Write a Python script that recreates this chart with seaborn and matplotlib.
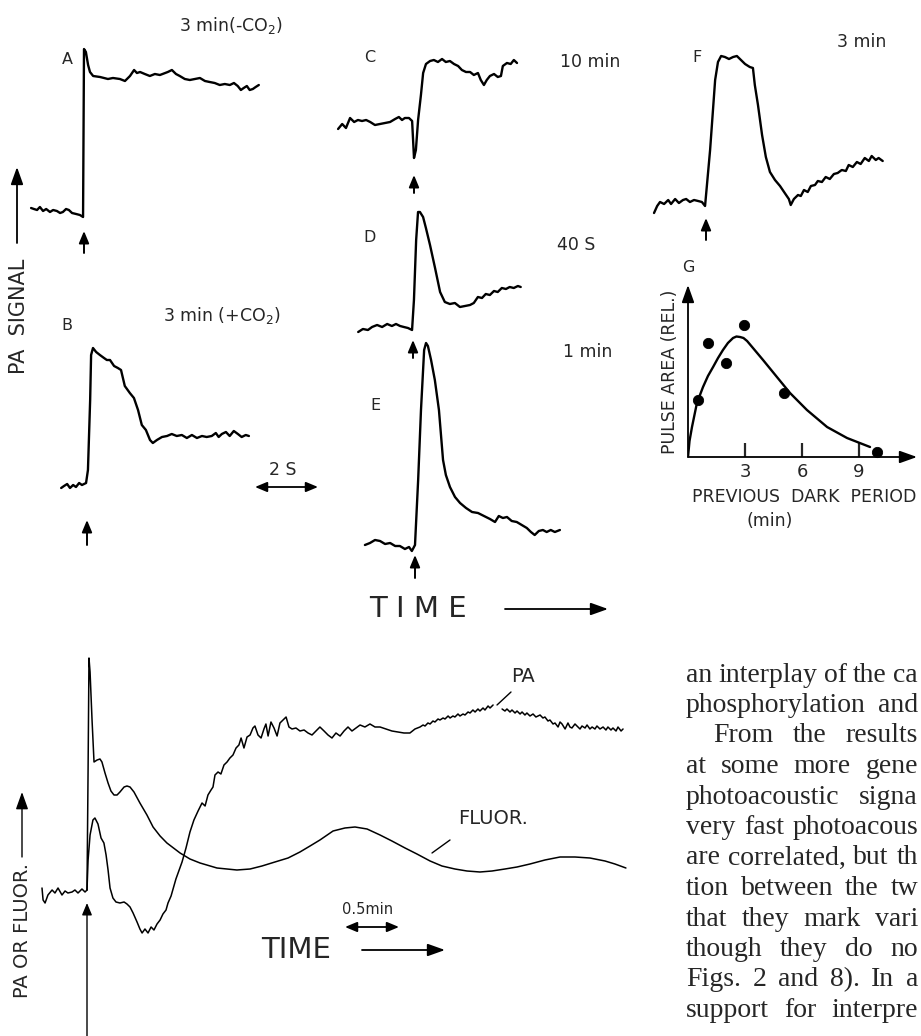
import matplotlib
matplotlib.use("Agg")
import matplotlib.pyplot as plt
import seaborn as sns

sns.set_style("white")
plt.rcParams['font.family'] = ['DejaVu Sans']
plt.rcParams['mathtext.fontset'] = 'dejavusans'

W, H = 921, 1036

# ---- data: upper traces, time (s) after the flash, PA signal (rel. units) ----
a_t = [-1.68, -1.59, -1.49, -1.40, -1.30, -1.20, -1.08, -0.98, -0.86, -0.76, -0.67, -0.57, -0.48,
       -0.38, -0.25, -0.13, -0.03, 0.0, 0.06, 0.13, 0.19, 0.29, 0.51, 0.76, 0.92, 1.14, 1.30, 1.46,
       1.59, 1.68, 1.78, 1.93, 2.09, 2.25, 2.41, 2.66, 2.79, 2.92, 3.04, 3.20, 3.36, 3.52, 3.68,
       3.84, 3.99, 4.15, 4.31, 4.47, 4.63, 4.76, 4.88, 4.98, 5.07, 5.17, 5.26, 5.36, 5.45, 5.55]
a_sig = [0.4, 0.3, 0.2, 0.5, 0.1, 0.3, 0.0, 0.2, 0.1, -0.1, 0.0, 0.3, 0.2,
         -0.1, -0.2, -0.3, -0.5, 16.3, 16.0, 14.7, 14.0, 13.6, 13.5, 13.3, 13.4, 13.3, 13.1, 13.6,
         14.2, 13.9, 14.0, 13.8, 13.6, 13.8, 13.7, 14.0, 14.2, 13.8, 13.6, 13.3, 13.2, 13.3, 13.4,
         13.1, 13.0, 12.9, 12.7, 12.8, 12.7, 12.9, 12.6, 12.2, 12.4, 12.6, 12.2, 12.3, 12.5, 12.7]

b_t = [-0.82, -0.73, -0.63, -0.54, -0.44, -0.35, -0.25, -0.16, -0.03, 0.03, 0.10, 0.13, 0.19,
       0.29, 0.41, 0.54, 0.63, 0.73, 0.86, 0.98, 1.08, 1.20, 1.36, 1.49, 1.62, 1.74, 1.87, 2.00,
       2.09, 2.22, 2.38, 2.54, 2.69, 2.85, 3.01, 3.17, 3.33, 3.49, 3.65, 3.80, 3.96, 4.09, 4.18,
       4.28, 4.41, 4.53, 4.66, 4.79, 4.91, 5.04, 5.14]
b_sig = [-0.2, 0.0, 0.2, -0.2, 0.1, -0.1, 0.3, 0.1, 0.3, 1.6, 8.6, 13.1, 13.8,
         13.4, 13.1, 12.8, 12.6, 12.6, 12.0, 11.8, 11.6, 10.0, 9.3, 8.8, 7.6, 6.1, 5.6, 4.6,
         4.3, 4.6, 4.9, 5.0, 5.2, 5.0, 5.1, 4.8, 5.1, 4.8, 5.0, 4.9, 5.0, 5.3, 4.9,
         5.2, 5.4, 5.0, 5.5, 5.2, 4.9, 5.1, 5.0]

c_t = [-2.41, -2.28, -2.16, -2.03, -1.90, -1.78, -1.65, -1.52, -1.39, -1.24, -1.08, -0.92, -0.76,
       -0.60, -0.48, -0.38, -0.29, -0.16, -0.06, 0.0, 0.06, 0.13, 0.22, 0.29, 0.38, 0.51, 0.63,
       0.76, 0.89, 1.01, 1.14, 1.27, 1.40, 1.52, 1.65, 1.78, 1.90, 2.03, 2.12, 2.22, 2.31, 2.41,
       2.54, 2.66, 2.76, 2.82, 2.95, 3.07, 3.17, 3.27]
c_sig = [-0.8, -0.3, -0.7, 0.3, -0.1, 0.1, 0.0, 0.1, -0.1, -0.4, -0.3, -0.2, -0.1,
         0.2, 0.4, 0.1, 0.3, 0.3, 0.0, -3.7, -2.9, 0.1, 2.6, 4.8, 5.7, 6.0, 6.1,
         5.9, 6.2, 5.9, 6.0, 5.7, 5.5, 5.1, 4.9, 4.9, 4.6, 4.8, 4.1, 3.6, 4.1, 4.5,
         4.7, 4.4, 4.5, 5.5, 5.8, 5.7, 6.1, 5.8]

d_t = [-1.74, -1.59, -1.43, -1.30, -1.14, -0.98, -0.82, -0.67, -0.54, -0.41, -0.29, -0.16, -0.03,
       0.03, 0.10, 0.16, 0.22, 0.32, 0.41, 0.54, 0.70, 0.86, 1.01, 1.17, 1.33, 1.49, 1.65, 1.81,
       1.93, 2.06, 2.19, 2.31, 2.44, 2.57, 2.69, 2.82, 2.95, 3.07, 3.20, 3.33, 3.42]
d_sig = [-0.2, 0.1, 0.0, 0.3, 0.5, 0.3, 0.6, 0.4, 0.6, 0.4, 0.3, 0.2, 0.0,
         3.0, 9.0, 11.8, 11.8, 11.3, 10.2, 8.5, 6.2, 3.8, 2.8, 2.6, 2.7, 2.3, 2.4, 2.5,
         2.7, 3.3, 3.2, 3.6, 3.5, 3.9, 3.8, 4.2, 4.1, 4.3, 4.2, 4.4, 4.3]

e_t = [-1.59, -1.43, -1.27, -1.11, -0.95, -0.79, -0.63, -0.48, -0.32, -0.19, -0.10, 0.0,
       0.10, 0.19, 0.29, 0.35, 0.41, 0.51, 0.63, 0.76, 0.89, 0.98, 1.11, 1.27, 1.43, 1.62, 1.81,
       2.00, 2.19, 2.38, 2.54, 2.66, 2.79, 2.92, 3.07, 3.23, 3.39, 3.55, 3.68, 3.80, 3.93, 4.06,
       4.18, 4.31, 4.44, 4.60]
e_sig = [0.0, 0.2, 0.5, 0.4, 0.1, 0.2, -0.1, -0.1, -0.4, -0.2, -0.6, 0.0,
         6.5, 13.5, 19.5, 20.2, 19.9, 18.5, 16.5, 13.5, 8.5, 7.0, 5.8, 4.8, 4.2, 3.7, 3.3,
         3.2, 2.9, 2.6, 2.3, 2.9, 2.7, 2.8, 2.4, 2.3, 2.0, 1.7, 1.3, 1.0, 1.4, 1.5,
         1.3, 1.5, 1.3, 1.5]

f_t = [-1.65, -1.55, -1.46, -1.33, -1.20, -1.11, -0.98, -0.86, -0.73, -0.63, -0.51, -0.38, -0.25,
       -0.13, -0.03, 0.13, 0.29, 0.38, 0.48, 0.60, 0.73, 0.86, 0.98, 1.11, 1.24, 1.39, 1.49, 1.55,
       1.65, 1.78, 1.90, 2.03, 2.19, 2.35, 2.50, 2.63, 2.69, 2.79, 2.92, 3.01, 3.11, 3.23, 3.33,
       3.46, 3.55, 3.68, 3.80, 3.93, 4.06, 4.18, 4.31, 4.44, 4.53, 4.66, 4.79, 4.91, 5.04, 5.17,
       5.26, 5.39, 5.48, 5.61]
f_sig = [-1.0, -0.3, 0.1, -0.1, 0.3, -0.1, 0.4, 0.0, 0.3, 0.4, 0.1, 0.3, 0.2,
         0.1, -0.3, 5.3, 12.3, 14.1, 14.7, 14.6, 14.4, 14.6, 14.7, 14.3, 13.9, 13.6, 13.5, 11.8,
         9.8, 6.8, 4.6, 3.1, 2.3, 1.7, 1.0, 0.4, -0.2, 0.4, 0.8, 0.7, 1.3, 1.1, 1.7,
         1.8, 2.2, 2.1, 2.6, 2.4, 2.9, 3.0, 3.3, 3.2, 3.8, 3.6, 4.1, 3.9, 4.5, 4.2,
         4.7, 4.3, 4.5, 4.2]

# ---- data: G, pulse area vs previous dark period ----
g_dark_min = [0.53, 1.05, 2.0, 2.95, 5.05, 9.95]
g_area = [5.7, 11.4, 9.4, 13.2, 6.4, 0.5]
g_fit_min = [0.0, 0.08, 0.21, 0.47, 0.79, 1.05, 1.32, 1.58, 1.84, 2.1, 2.37, 2.55, 2.74, 2.92,
             3.11, 3.42, 3.95, 4.68, 5.37, 6.26, 7.32, 8.37, 9.58]
g_fit_area = [0.0, 1.6, 3.0, 5.4, 7.0, 8.1, 9.0, 9.9, 10.7, 11.4, 11.9, 12.05, 12.0, 11.9,
              11.6, 10.9, 9.7, 8.0, 6.4, 4.7, 3.0, 1.9, 1.0]

# ---- data: bottom panel, time (s) after light on ----
base_t = [-25.0, -24.4, -23.3, -21.7, -19.4, -17.8, -16.1, -13.9, -12.2, -10.6, -8.3, -6.7, -5.0,
          -2.8, -1.1, 0.0]
base_sig = [0.2, -1.0, -1.3, -0.5, 0.0, -0.3, 0.2, -0.5, -0.1, -0.3, -0.2, 0.0, -0.3,
            0.1, -0.2, 0.0]

pa_t = [0.0, 0.6, 1.7, 3.3, 4.4, 6.1, 7.8, 9.4, 10.6, 11.7, 12.8, 14.4, 16.1, 18.3, 20.6, 22.2,
        23.9, 25.6, 27.8, 29.4, 30.6, 32.2, 33.9, 35.6, 37.2, 38.9, 40.6, 42.2, 43.9, 45.0, 46.7,
        47.8, 49.4, 50.6, 52.8, 55.0, 57.2, 59.4, 61.7, 63.9, 65.6, 67.2, 68.9, 70.0, 71.1, 72.8,
        74.4, 76.1, 77.8, 79.4, 81.1, 82.8, 84.4, 85.6, 87.2, 88.9, 90.6, 92.2, 93.3, 95.0, 96.7,
        98.3, 99.4, 100.6, 102.2, 103.9, 105.6, 107.2, 108.9, 110.6, 112.2, 113.9, 116.1, 118.3,
        120.6, 122.8, 125.0, 127.2, 129.4, 131.7, 133.9, 136.1, 138.3, 140.6, 142.8, 145.0, 147.2,
        149.4, 151.7, 154.4, 157.2, 160.0, 162.8, 166.1, 169.4, 172.8, 176.1, 179.4, 182.2, 185.0,
        186.7, 187.8, 189.4, 190.6, 192.2, 193.3, 195.0, 196.1, 197.8, 198.9, 200.6, 201.7, 203.3,
        204.4, 206.1, 207.2, 208.9, 210.0, 211.7, 212.8, 214.4, 215.6, 217.2, 218.3, 220.0, 221.1,
        222.8, 223.9, 225.6]
pa_sig = [0.0, 3.0, 5.5, 7.0, 7.2, 6.6, 5.2, 4.7, 3.5, 2.0, 0.2, -0.8, -1.2, -1.3, -1.2, -1.4,
          -1.7, -2.3, -3.2, -3.9, -4.3, -3.9, -4.3, -3.7, -4.0, -3.4, -3.0, -2.4, -2.0, -1.3, -0.6,
          0.1, 1.1, 1.7, 2.8, 4.2, 5.8, 7.0, 7.9, 8.7, 8.4, 9.5, 10.0, 10.3, 11.5, 11.8,
          11.6, 12.5, 12.8, 13.2, 13.5, 14.2, 14.5, 15.2, 14.2, 15.3, 15.5, 16.2, 16.4, 15.5, 15.2,
          16.1, 16.6, 15.4, 16.8, 16.2, 15.4, 16.7, 17.0, 17.3, 16.3, 16.1, 16.2, 15.9,
          16.0, 15.7, 15.5, 15.9, 16.3, 15.9, 15.5, 15.2, 15.7, 15.4, 15.9, 16.3, 15.9,
          16.2, 16.5, 16.3, 16.6, 16.3, 16.3, 16.1, 15.9, 15.8, 15.7, 15.7, 16.1, 16.3,
          16.5, 16.4, 16.7, 16.6, 16.9, 16.8, 17.1, 17.0, 17.2, 17.1, 17.4, 17.2, 17.4,
          17.3, 17.6, 17.4, 17.6, 17.5, 17.8, 17.7, 18.0, 17.8, 18.1, 17.9, 18.2, 18.0,
          18.4, 18.2, 18.5]
pa_late_t = [230.6, 232.2, 233.3, 235.0, 236.1, 237.8, 238.9, 240.6, 241.7, 243.3, 244.4, 246.1,
             247.8, 249.4, 251.7, 253.3, 254.4, 256.1, 257.2, 258.9, 260.0, 261.7, 262.8, 263.9,
             265.6, 267.2, 268.3, 269.4, 271.1, 272.2, 273.9, 275.0, 276.7, 277.8, 279.4, 280.6,
             282.2, 283.3, 285.0, 286.7, 288.3, 289.4, 291.1, 292.2, 293.9, 295.0, 296.7, 297.8]
pa_late_sig = [18.1, 17.9, 18.1, 17.8, 18.0, 17.7, 17.9, 17.6, 17.8, 17.5, 17.7, 17.4,
               17.6, 17.3, 17.5, 17.2, 17.3, 16.9, 17.0, 16.6, 16.7, 16.3, 16.8, 16.6,
               16.1, 16.7, 16.3, 16.2, 16.6, 16.4, 16.1, 16.4, 16.2, 16.5, 16.1, 16.3,
               16.1, 16.4, 16.1, 16.3, 16.0, 16.3, 16.0, 16.2, 15.9, 16.3, 15.9, 16.1]

fl_t = [0.0, 0.6, 1.1, 1.7, 2.8, 3.9, 5.6, 7.2, 8.3, 10.0, 11.7, 13.3, 15.0, 16.7, 18.3, 20.6,
        22.2, 23.9, 26.1, 29.4, 33.3, 36.7, 40.6, 44.4, 51.7, 57.2, 62.8, 72.2, 83.3, 90.6, 97.2,
        104.4, 111.7, 118.3, 123.9, 129.4, 136.7, 143.3, 148.9, 155.6, 162.8, 169.4, 176.7, 183.3,
        190.6, 197.2, 204.4, 211.1, 218.3, 225.0, 232.2, 238.9, 246.1, 254.4, 262.8, 271.1, 279.4,
        287.8, 293.3, 299.4]
fl_sig = [0.0, 12.0, 23.2, 21.8, 17.0, 12.8, 13.0, 13.1, 12.8, 11.7, 10.7, 9.9, 9.5, 9.5, 9.8, 10.3,
          10.4, 10.3, 9.8, 8.7, 7.5, 6.3, 5.4, 4.7, 3.7, 3.1, 2.7, 2.2, 2.0, 2.1, 2.4,
          2.8, 3.2, 3.8, 4.4, 5.0, 5.9, 6.2, 6.3, 6.1, 5.5, 4.9, 4.2, 3.6,
          2.9, 2.4, 2.1, 1.9, 1.8, 1.9, 2.1, 2.3, 2.6, 3.0, 3.3, 3.3, 3.2,
          2.9, 2.6, 2.2]

# page text beside the figure (only the part that is visible)
text_lines = ["an interplay of the ca", "phosphorylation and", "From the results",
              "at some more gene", "photoacoustic signa", "very fast photoacous",
              "are correlated, but th", "tion between the tw", "that they mark vari",
              "though they do no", "Figs. 2 and 8). In a", "support for interpre"]

# ---- layout ----
PX_PER_S = 31.5        # 2 s bar = 63 px
PX_PER_S_SLOW = 1.8    # 0.5 min bar = 54 px
PX_PER_UNIT = 10.0
panels = {
    'A': dict(t=a_t, s=a_sig, origin=(84, 212), flash=(-1.9, -4.1)),
    'B': dict(t=b_t, s=b_sig, origin=(87, 486), flash=(-3.4, -5.9)),
    'C': dict(t=c_t, s=c_sig, origin=(414, 121), flash=(-5.4, -7.2)),
    'D': dict(t=d_t, s=d_sig, origin=(413, 330), flash=(-1.0, -2.8)),
    'E': dict(t=e_t, s=e_sig, origin=(415, 545), flash=(-1.0, -3.3)),
    'F': dict(t=f_t, s=f_sig, origin=(706, 203), flash=(-1.5, -3.7)),
}

fig = plt.figure(figsize=(W / 100, H / 100), dpi=100)
canvas = fig.add_axes([0, 0, 1, 1])
canvas.set_xlim(0, W)
canvas.set_ylim(H, 0)
canvas.set_axis_off()


def overlay(x0, y0, sx, sy):
    ax = fig.add_axes([0, 0, 1, 1])
    ax.set_xlim(-x0 / sx, (W - x0) / sx)
    ax.set_ylim(-(H - y0) / sy, y0 / sy)
    ax.set_axis_off()
    ax.patch.set_alpha(0)
    return ax


def trace(ax, t, s, lw):
    sns.lineplot(x=t, y=s, ax=ax, color='black', linewidth=lw, sort=False,
                 estimator=None, legend=False)


small_head = dict(arrowstyle='-|>,head_length=0.6,head_width=0.25', color='black',
                  lw=1.4, mutation_scale=12, shrinkA=0, shrinkB=0)
big_head = dict(arrowstyle='-|>,head_length=0.7,head_width=0.25', color='black',
                lw=1.3, mutation_scale=15, shrinkA=0, shrinkB=0)
double_head = dict(arrowstyle='<|-|>,head_length=0.6,head_width=0.25', color='black',
                   lw=1.3, mutation_scale=12, shrinkA=0, shrinkB=0)

for name, p in panels.items():
    ax = overlay(p['origin'][0], p['origin'][1], PX_PER_S, PX_PER_UNIT)
    trace(ax, p['t'], p['s'], 1.7)
    tip, tail = p['flash']
    ax.annotate('', xy=(0, tip), xytext=(0, tail), arrowprops=small_head)

# bottom panel
axb = overlay(87, 890, PX_PER_S_SLOW, PX_PER_UNIT)
trace(axb, base_t, base_sig, 1.1)
trace(axb, pa_t, pa_sig, 1.1)
trace(axb, pa_late_t, pa_late_sig, 1.1)
trace(axb, fl_t, fl_sig, 1.1)
axb.annotate('', xy=(0, -1.3), xytext=(0, -16), arrowprops=dict(small_head, lw=1.0))

# panel G
gx0, gy0, gx1, gy1 = 688, 457, 917, 285
gax = fig.add_axes([gx0 / W, 1 - gy0 / H, (gx1 - gx0) / W, (gy0 - gy1) / H])
gax.patch.set_alpha(0)
gax.set_xlim(0, (gx1 - gx0) / 19.0)
gax.set_ylim(0, (gy0 - gy1) / PX_PER_UNIT)
for sp in gax.spines.values():
    sp.set_visible(False)
trace(gax, g_fit_min, g_fit_area, 1.7)
sns.scatterplot(x=g_dark_min, y=g_area, ax=gax, color='black', s=55, edgecolor='black',
                zorder=3, clip_on=False, legend=False)
gax.set_xticks([3, 6, 9])
gax.set_yticks([])
gax.tick_params(axis='x', direction='in', length=10, width=1.6, labelsize=13, pad=4,
                bottom=True)
gax.set_xlabel('')
gax.set_ylabel('')
gax.annotate('', xy=(1, 0), xytext=(0, 0), xycoords='axes fraction',
             textcoords='axes fraction', arrowprops=big_head)
gax.annotate('', xy=(0, 1), xytext=(0, 0), xycoords='axes fraction',
             textcoords='axes fraction', arrowprops=big_head)


def label(x, y, s, size=12.5, ha='center', rot=0, **kw):
    canvas.text(x, y, s, fontsize=size, ha=ha, va='center', rotation=rot, **kw)


label(231, 25, '3 min(-CO$_2$)')
label(67, 60, 'A', 11.5)
label(67, 325, 'B', 11.5)
label(222, 316, '3 min (+CO$_2$)')
label(283, 470, '2 S')
canvas.annotate('', xy=(255, 487), xytext=(318, 487), arrowprops=double_head)
label(370, 58, 'C', 11.5)
label(560, 62, '10 min', ha='left')
label(370, 238, 'D', 11.5)
label(557, 245, '40 S', ha='left')
label(375, 405, 'E', 11.5)
label(563, 352, '1 min', ha='left')
label(697, 58, 'F', 11.5)
label(837, 42, '3 min', ha='left')
label(688, 268, 'G', 11.5)
label(670, 372, 'PULSE AREA (REL.)', 12.5, rot=90)
label(692, 497, 'PREVIOUS  DARK  PERIOD', 12.5, ha='left')
label(770, 521, '(min)', 12.5)

label(19, 316, 'PA  SIGNAL', 15, rot=90)
canvas.annotate('', xy=(17, 167), xytext=(17, 243), arrowprops=big_head)
label(418, 609, 'T I M E', 21)
canvas.annotate('', xy=(608, 609), xytext=(505, 609), arrowprops=big_head)

label(523, 677, 'PA', 14)
canvas.plot([511, 497], [692, 705], color='black', lw=1.0)
label(458, 818, 'FLUOR.', 14, ha='left')
canvas.plot([450, 432], [840, 853], color='black', lw=1.0)
label(368, 910, '0.5min', 10.5)
canvas.annotate('', xy=(345, 927), xytext=(399, 927), arrowprops=double_head)
label(22, 931, 'PA OR FLUOR.', 14, rot=90)
canvas.annotate('', xy=(22, 792), xytext=(22, 857), arrowprops=dict(big_head, lw=1.0))
label(296, 950, 'TIME', 21)
canvas.annotate('', xy=(445, 950), xytext=(362, 950), arrowprops=big_head)

# justified column of page text, running up to the right edge
renderer = fig.canvas.get_renderer()
for i, line in enumerate(text_lines):
    y = 675 + 30.5 * i
    x0 = 713 if i == 2 else 686
    words = [canvas.text(x0, y, w, fontsize=20, family='Liberation Serif', ha='left',
                         va='center') for w in line.split()]
    widths = [t.get_window_extent(renderer).width for t in words]
    gap = (918 - x0 - sum(widths)) / (len(words) - 1)
    x = x0
    for t, w in zip(words, widths):
        t.set_x(x)
        x += w + gap

fig.savefig('out.png', dpi=100)
